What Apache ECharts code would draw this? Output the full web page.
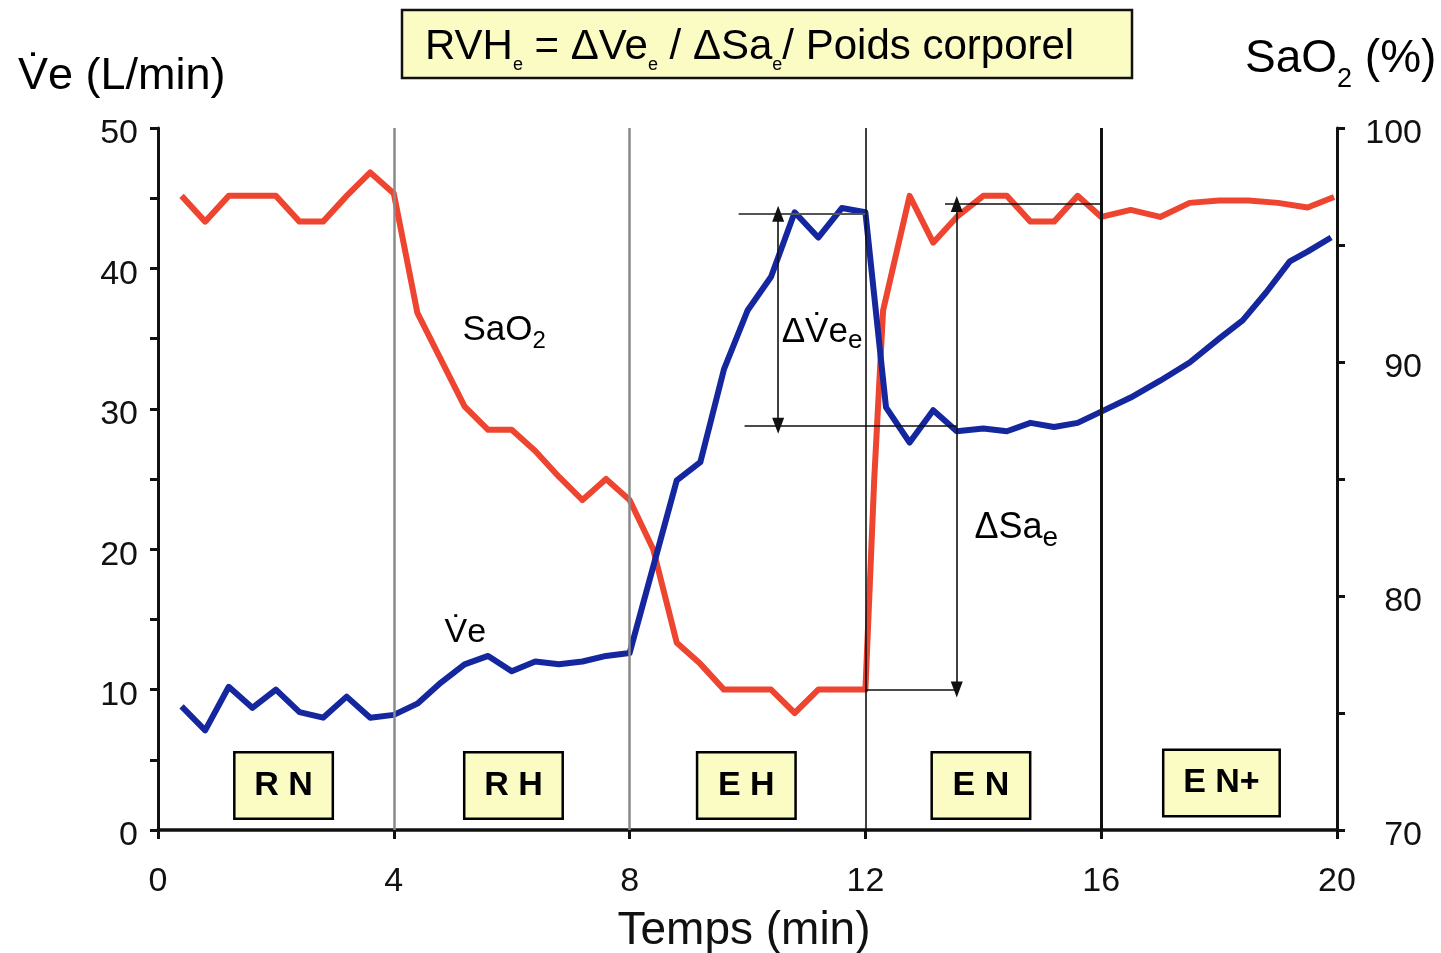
<!DOCTYPE html>
<html>
<head>
<meta charset="utf-8">
<script src="https://cdn.jsdelivr.net/npm/echarts@6/dist/echarts.min.js"></script>
<style>
  html, body { margin: 0; padding: 0; background: #fff; }
  #chart { width: 1441px; height: 953px; }
</style>
</head>
<body>
<div id="chart"></div>
<script>
// minute ventilation (L/min)
const veTime = [0.4, 0.8, 1.2, 1.6, 2.0, 2.4, 2.8, 3.2, 3.6, 4.0,
  4.4, 4.8, 5.2, 5.6, 6.0, 6.4, 6.8, 7.2, 7.6, 8.0,
  8.8, 9.2, 9.6, 10.0, 10.4, 10.8, 11.2, 11.6, 12.0,
  12.35, 12.75, 13.15, 13.55, 14.0, 14.4, 14.8, 15.2, 15.6, 16.0,
  16.5, 17.0, 17.5, 18.0, 18.4, 18.8, 19.2, 19.5, 19.9];
const veValues = [8.8, 7.1, 10.2, 8.7, 10.0, 8.4, 8.0, 9.5, 8.0, 8.2,
  9.0, 10.5, 11.8, 12.4, 11.3, 12.0, 11.8, 12.0, 12.4, 12.6,
  24.9, 26.2, 32.8, 37.0, 39.4, 44.0, 42.2, 44.3, 44.0,
  30.1, 27.6, 29.9, 28.4, 28.6, 28.4, 29.0, 28.7, 29.0, 29.8,
  30.8, 32.0, 33.3, 35.0, 36.3, 38.3, 40.5, 41.2, 42.2];

// arterial saturation (%)
const saTime = [0.4, 0.8, 1.2, 1.6, 2.0, 2.4, 2.8, 3.2, 3.6, 4.0,
  4.4, 4.8, 5.2, 5.6, 6.0, 6.4, 6.8, 7.2, 7.6, 8.0,
  8.4, 8.8, 9.2, 9.6, 10.0, 10.4, 10.8, 11.2, 11.6, 12.0,
  12.15, 12.3, 12.75, 13.15, 13.55, 14.0, 14.4, 14.8, 15.2, 15.6, 16.0,
  16.5, 17.0, 17.5, 18.0, 18.5, 19.0, 19.5, 19.95];
const saValues = [97.1, 96.0, 97.1, 97.1, 97.1, 96.0, 96.0, 97.1, 98.1, 97.2,
  92.1, 90.1, 88.1, 87.1, 87.1, 86.2, 85.1, 84.1, 85.0, 84.1,
  82.0, 78.0, 77.1, 76.0, 76.0, 76.0, 75.0, 76.0, 76.0, 76.0,
  85.0, 92.2, 97.1, 95.1, 96.2, 97.1, 97.1, 96.0, 96.0, 97.1, 96.2,
  96.5, 96.2, 96.8, 96.9, 96.9, 96.8, 96.6, 97.05];

// phases
const phaseNames = ['R N', 'R H', 'E H', 'E N', 'E N+'];
const phaseCenters = [2.13, 6.03, 9.98, 13.96, 18.04];
const phaseBounds = [4, 8, 12, 16];

// delta markers
const veLow = 28.8, veHigh = 43.9;
const saLow = 76.0, saHigh = 96.75;

const FONT = "'Liberation Sans', Arial, sans-serif";
const INK = '#111';
const RED = '#ee4530';
const BLUE = '#15279e';
const BOX = '#fbfbc4';

const chart = echarts.init(document.getElementById('chart'));

function rich(main, sub, drop, bold) {
  return {
    m: { fontFamily: FONT, fontSize: main, lineHeight: main, verticalAlign: 'top', color: INK, fontWeight: bold ? 'bold' : 'normal' },
    s: { fontFamily: FONT, fontSize: sub, lineHeight: sub, verticalAlign: 'top', color: INK, padding: [drop, 0, 0, 0] }
  };
}

// x, y = left edge and cap centre of the main text
function label(x, y, text, main, sub, drop) {
  return {
    type: 'text', x: x, y: y - main / 2, z: 50,
    style: { text: text, rich: rich(main, sub, drop), align: 'left', verticalAlign: 'top' }
  };
}

const ticks = {
  axisTick: { show: true, length: 8, lineStyle: { color: INK, width: 3 } },
  minorTick: { show: true, splitNumber: 2, length: 8, lineStyle: { color: INK, width: 3 } },
  splitLine: { show: false },
  axisLine: { show: true, lineStyle: { color: INK, width: 3 } }
};

const plain = (color, width) => ({ color: color, width: width, type: 'solid' });

const option = {
  animation: false,
  textStyle: { fontFamily: FONT },
  grid: { left: 158, right: 104, top: 128, bottom: 123 },
  xAxis: {
    type: 'value', min: 0, max: 20, interval: 4,
    axisLine: { lineStyle: { color: INK, width: 3.5 } },
    axisTick: { length: 9, lineStyle: { color: INK, width: 3 } },
    splitLine: { show: false },
    axisLabel: { fontSize: 34, color: INK, margin: 35 }
  },
  yAxis: [
    Object.assign({
      type: 'value', min: 0, max: 50, interval: 10, position: 'left',
      axisLabel: { fontSize: 34, color: INK, margin: 20, verticalAlign: 'top', lineHeight: 12 }
    }, ticks),
    Object.assign({
      type: 'value', min: 70, max: 100, interval: 10, position: 'right',
      axisLabel: { fontSize: 34, color: INK, margin: 85, align: 'right', verticalAlign: 'top', lineHeight: 12 }
    }, ticks)
  ],
  series: [
    {
      name: 'Ve', type: 'line', yAxisIndex: 0, z: 4,
      data: veTime.map((t, i) => [t, veValues[i]]),
      showSymbol: false, symbol: 'none',
      lineStyle: { color: BLUE, width: 6, join: 'round' },
      markLine: {
        silent: true, symbol: ['none', 'none'], symbolSize: [12, 16],
        label: { show: false },
        data: [
          ...phaseBounds.map((b, i) => ({
            xAxis: b,
            lineStyle: i < 2 ? plain('#8a8a8a', 2.5) : plain(INK, i === 2 ? 1.6 : 3)
          })),
          [{ coord: [9.85, veHigh], lineStyle: plain('#555', 2) }, { coord: [12.0, veHigh] }],
          [{ coord: [9.95, veLow], lineStyle: plain(INK, 1.6) }, { coord: [13.55, veLow] }],
          [{ coord: [10.52, veLow], symbol: 'triangle', lineStyle: plain(INK, 1.6) },
           { coord: [10.52, veHigh], symbol: 'triangle' }]
        ]
      }
    },
    {
      name: 'SaO2', type: 'line', yAxisIndex: 1, z: 3,
      data: saTime.map((t, i) => [t, saValues[i]]),
      showSymbol: false, symbol: 'none',
      lineStyle: { color: RED, width: 6, join: 'round' },
      markLine: {
        silent: true, symbol: ['none', 'none'], symbolSize: [12, 16],
        label: { show: false },
        data: [
          [{ coord: [13.35, saHigh], lineStyle: plain(INK, 1.6) }, { coord: [16.0, saHigh] }],
          [{ coord: [12.0, saLow], lineStyle: plain(INK, 1.6) }, { coord: [13.55, saLow] }],
          [{ coord: [13.55, saLow], symbol: 'triangle', lineStyle: plain(INK, 1.6) },
           { coord: [13.55, saHigh], symbol: 'triangle' }]
        ]
      }
    },
    {
      name: 'phases', type: 'scatter', yAxisIndex: 0, symbolSize: 0, z: 10, silent: true,
      itemStyle: { opacity: 1 },
      data: phaseNames.map((n, i) => ({
        value: [phaseCenters[i], i === 4 ? 3.35 : 3.17],
        name: n,
        label: { width: i === 4 ? 114 : 96 }
      })),
      label: {
        show: true, position: 'inside', formatter: '{b}', opacity: 1,
        fontFamily: FONT, fontSize: 34, fontWeight: 'bold', color: '#000',
        backgroundColor: BOX, borderColor: '#000', borderWidth: 2.5,
        align: 'center', lineHeight: 36, padding: [14, 0, 14, 0]
      }
    }
  ],
  graphic: [
    {
      type: 'rect', z: 20,
      shape: { x: 402, y: 10, width: 730, height: 68 },
      style: { fill: BOX, stroke: INK, lineWidth: 2.5 }
    },
    label(425, 47.5, '{m|RVH}{s|e}{m| = ΔVe}{s|e}{m| / ΔSa}{s|e}{m|/ Poids corporel}', 42, 18, 30),
    label(18, 77, '{m|V\u0307e (L/min)}', 45, 22, 30),
    label(1245, 59, '{m|SaO}{s|2}{m| (%)}', 46, 27, 30),
    {
      type: 'text', x: 744, y: 931, z: 50,
      style: { text: 'Temps (min)', fontFamily: FONT, fontSize: 46, fill: INK, align: 'center', verticalAlign: 'middle' }
    }
  ]
};

chart.setOption(option);

// in-plot labels anchored in data space (left edge, cap centre)
const notes = [
  { at: [5.165, 35.61], text: '{m|SaO}{s|2}', main: 35, sub: 24, drop: 16.5 },
  { at: [4.86, 14.03], text: '{m|V\u0307e}', main: 34, sub: 24, drop: 16 },
  { at: [10.58, 35.47], text: '{m|ΔV\u0307e}{s|e}', main: 35, sub: 26, drop: 13 },
  { at: [13.85, 21.51], text: '{m|ΔSa}{s|e}', main: 36, sub: 28, drop: 14.5 }
];
const extra = notes.map(n => {
  const p = chart.convertToPixel({ gridIndex: 0 }, n.at);
  return label(p[0], p[1], n.text, n.main, n.sub, n.drop);
});
chart.setOption({ graphic: option.graphic.concat(extra) });
</script>
</body>
</html>
